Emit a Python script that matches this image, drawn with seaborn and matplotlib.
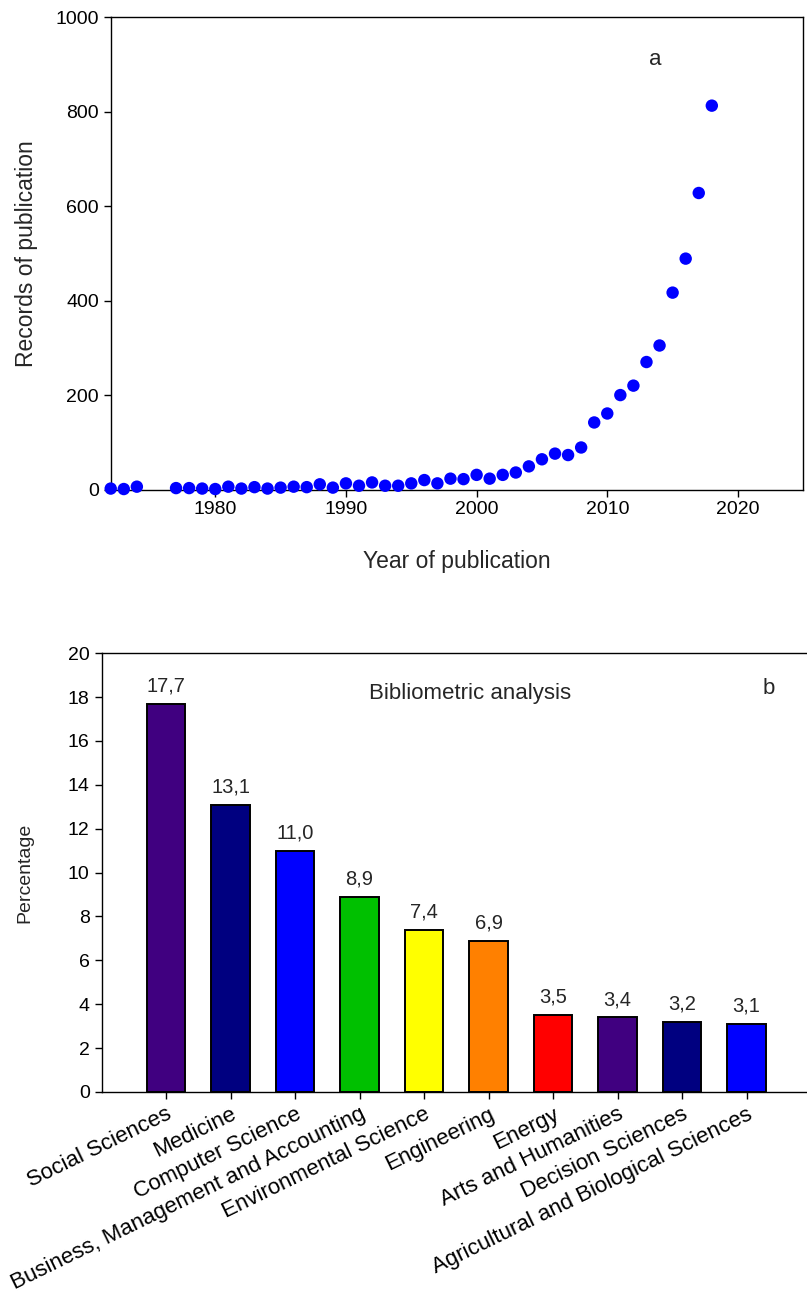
import matplotlib
matplotlib.use("Agg")
import matplotlib.pyplot as plt
import numpy as np
import pandas as pd
import seaborn as sns

# panel a: records of publication per year
years = [1972, 1973, 1974, 1977, 1978, 1979, 1980, 1981, 1982, 1983, 1984,
         1985, 1986, 1987, 1988, 1989, 1990, 1991, 1992, 1993, 1994, 1995,
         1996, 1997, 1998, 1999, 2000, 2001, 2002, 2003, 2004, 2005, 2006,
         2007, 2008, 2009, 2010, 2011, 2012, 2013, 2014, 2015, 2016, 2017,
         2018]
records = [2, 1, 6, 3, 3, 2, 1, 6, 2, 5, 2,
           4, 6, 5, 11, 4, 13, 8, 15, 8, 8, 13,
           20, 13, 23, 22, 31, 23, 31, 36, 49, 64, 76,
           73, 89, 142, 161, 200, 220, 270, 305, 417, 489, 628,
           813]

# panel b: subject areas
areas = ["Social Sciences", "Medicine", "Computer Science",
         "Business, Management and Accounting", "Environmental Science",
         "Engineering", "Energy", "Arts and Humanities", "Decision Sciences",
         "Agricultural and Biological Sciences"]
percent = [17.7, 13.1, 11.0, 8.9, 7.4, 6.9, 3.5, 3.4, 3.2, 3.1]
bar_colors = ["#400080", "#000080", "#0000FF", "#00C000", "#FFFF00",
              "#FF8000", "#FF0000", "#400080", "#000080", "#0000FF"]

sns.set_style("ticks")
plt.rcParams["font.family"] = ["Liberation Sans", "DejaVu Sans"]
plt.rcParams["axes.linewidth"] = 1.0

fig = plt.figure(figsize=(8.07, 12.95), dpi=100)

# ---- panel a ----
ax1 = fig.add_axes([0.1372, 0.6220, 0.8582, 0.3646])
df_a = pd.DataFrame({"year": years, "records": records})
sns.scatterplot(data=df_a, x="year", y="records", ax=ax1, color="#0000FF",
                s=80, edgecolor="none", clip_on=False, zorder=3)
ax1.set_xlim(1972, 2025)
ax1.set_ylim(0, 1000)
ax1.set_xticks([1980, 1990, 2000, 2010, 2020])
ax1.set_yticks(range(0, 1001, 200))
ax1.tick_params(direction="out", length=5, width=1, labelsize=14, colors="black")
ax1.set_xlabel("Year of publication", fontsize=16.5)
ax1.set_ylabel("Records of publication", fontsize=16.5)
ax1.xaxis.set_label_coords(0.5, -0.128)
ax1.yaxis.set_label_coords(-0.105, 0.5)
ax1.text(0.786, 0.91, "a", transform=ax1.transAxes, fontsize=16,
         ha="center", va="center")
for sp in ax1.spines.values():
    sp.set_color("black")

# ---- panel b ----
ax2 = fig.add_axes([0.1258, 0.1568, 0.8792, 0.3388])
df_b = pd.DataFrame({"area": areas, "percent": percent})
sns.barplot(data=df_b, x="area", y="percent", hue="area", palette=bar_colors,
            legend=False, ax=ax2, width=0.6, edgecolor="black", linewidth=1.4,
            saturation=1)
ax2.set_xlim(-1, 10)
ax2.set_ylim(0, 20)
ax2.set_yticks(range(0, 21, 2))
for cont in ax2.containers:
    ax2.bar_label(cont, labels=[f"{v:.1f}".replace(".", ",") for v in cont.datavalues],
                  padding=6, fontsize=14.5)
ax2.tick_params(direction="out", length=5, width=1, labelsize=14, colors="black")
ax2.set_xticks(range(len(areas)))
ax2.set_xticklabels(areas, rotation=26, ha="right", va="top",
                    rotation_mode="anchor", fontsize=16)
ax2.set_xlabel("")
ax2.set_ylabel("Percentage", fontsize=14)
ax2.yaxis.set_label_coords(-0.0965, 0.5)
ax2.text(0.52, 0.909, "Bibliometric analysis", transform=ax2.transAxes,
         fontsize=16, ha="center", va="center")
ax2.text(0.941, 0.919, "b", transform=ax2.transAxes, fontsize=16,
         ha="center", va="center")
for sp in ax2.spines.values():
    sp.set_color("black")

fig.savefig("out.png", dpi=100, facecolor="white")
